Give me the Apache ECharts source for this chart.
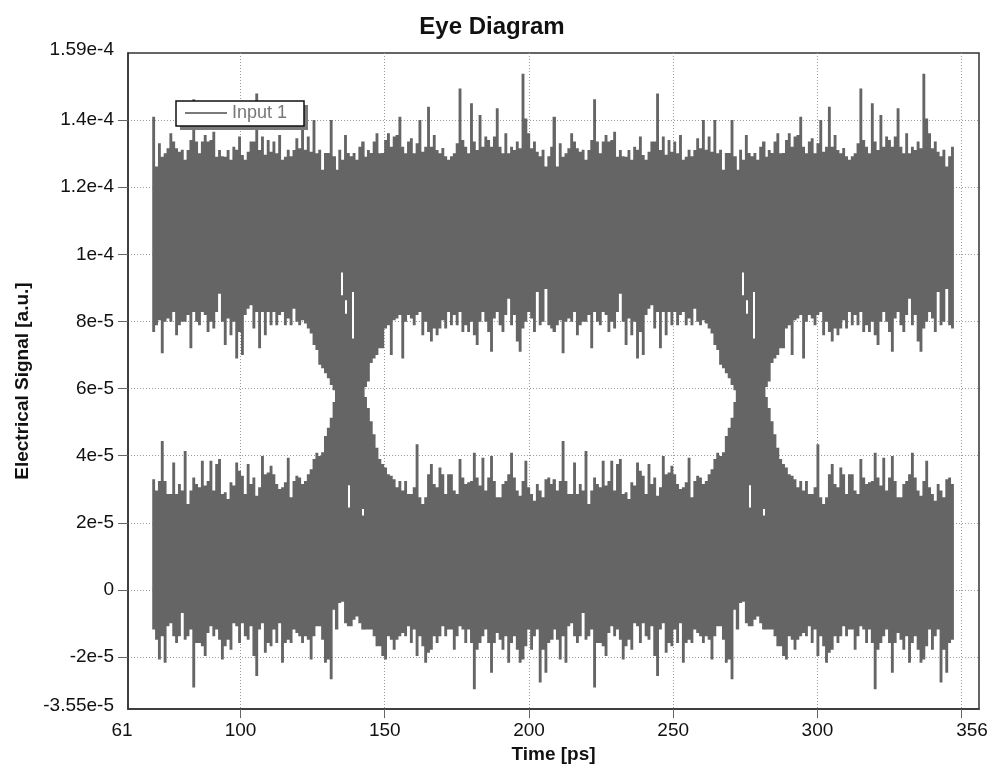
<!DOCTYPE html>
<html>
<head>
<meta charset="utf-8">
<title>Eye Diagram</title>
<script src="https://cdn.jsdelivr.net/npm/echarts@6/dist/echarts.min.js"></script>
<style>
  html, body { margin: 0; padding: 0; background: #fff; }
  #chart { width: 992px; height: 769px; }
</style>
</head>
<body>
<div id="chart"></div>
<script>
// Folded eye trace: two identical bit windows, sampled every ~1 ps.
// Amplitudes are in units of 1e-5 a.u.
const SCALE = 1e-5;
const SAMPLE_STEP = 0.9925;          // ps between samples
const windowStarts = [69.4, 208.35]; // ps, start of each bit window

// upper rail: highest excursion per sample
const upperTop = [14.10,12.62,13.31,12.91,13.01,13.16,13.61,13.36,13.16,13.06,
  13.12,12.82,13.11,13.41,14.62,13.36,13.01,13.36,13.56,13.36,
  13.41,13.65,12.91,13.11,12.92,12.91,13.11,12.82,13.21,13.12,
  13.51,12.96,12.82,13.06,13.36,13.36,14.79,13.11,13.51,12.97,
  13.41,13.06,13.36,13.01,13.56,12.82,12.91,13.12,12.92,13.11,
  13.46,13.16,14.00,13.12,13.51,13.06,14.00,13.01,13.12,12.52,
  13.02,13.02,14.00,12.92,12.52,13.12,12.82,13.56,13.02,12.92,
  13.02,12.82,13.21,13.36,12.91,13.11,13.02,13.36,13.61,13.01,
  13.02,13.41,13.61,13.21,13.51,13.56,14.10,13.21,13.01,13.36,
  13.46,13.01,13.31,14.00,13.06,13.21,14.40,13.21,13.56,13.11,
  13.01,13.17,12.92,12.82,12.92,13.01,13.31,14.94,13.41,13.21,
  13.01,14.50,13.36,13.11,14.15,13.21,13.51,13.41,13.21,13.51,
  14.35,13.21,13.01,13.61,13.01,13.21,13.11,13.36,13.16,15.38,
  14.05,13.61,13.16,13.36,13.06,12.92,13.12,12.62,12.92,13.21];

// upper rail: lowest excursion (top of the eye opening); null inside the crossing
const upperBottom = [7.69,7.89,8.04,7.05,7.99,8.09,7.99,8.28,7.59,7.89,
  7.99,7.99,8.19,7.20,8.28,7.99,7.89,8.28,8.19,7.69,
  7.99,7.79,8.28,8.83,7.99,7.30,8.09,7.59,7.99,6.90,
  7.69,7.00,8.19,8.38,8.48,7.79,8.28,7.20,8.28,7.59,
  8.28,7.89,8.28,7.89,8.19,8.28,7.89,8.09,7.89,8.38,
  7.99,7.89,8.04,7.94,7.79,7.64,7.30,7.15,6.71,6.61,
  6.46,6.31,6.11,5.95,null,null,null,null,null,null,
  null,null,null,null,6.05,6.21,6.76,6.90,7.00,7.20,
  7.20,7.79,7.89,7.00,8.04,8.09,8.19,6.90,7.99,8.19,
  8.09,7.89,8.19,8.28,7.59,7.99,7.69,7.40,7.79,7.59,
  7.79,8.04,7.79,8.28,7.89,8.19,7.89,8.28,7.69,7.89,
  7.69,7.99,7.59,7.30,7.99,8.28,7.99,7.69,7.10,8.09,
  8.28,7.89,7.69,8.19,8.68,7.89,8.19,7.40,7.10,7.79,
  7.99,8.28,8.09,7.69,8.88,7.89,7.99,8.97,7.89,7.79];

// lower rail: highest excursion (bottom of the eye opening); null inside the crossing
const lowerTop = [3.30,2.96,3.25,4.44,3.25,2.86,2.86,3.80,2.86,3.16,
  2.96,4.14,2.56,2.96,3.35,3.16,3.06,3.85,3.11,3.25,
  3.85,2.96,3.75,3.90,2.86,2.91,2.71,3.21,3.11,3.80,
  3.55,3.40,2.86,3.75,3.16,3.35,2.81,3.06,3.99,3.45,
  3.50,3.70,3.45,3.16,3.01,3.06,3.21,3.94,2.76,3.25,
  3.40,3.35,3.16,3.25,3.45,3.60,3.90,4.09,3.99,4.10,
  4.59,4.83,5.13,5.60,null,null,null,null,null,null,
  null,null,null,null,5.75,5.42,5.03,4.64,4.24,3.90,
  3.75,3.65,3.45,3.40,3.30,3.06,3.25,2.96,3.25,2.86,
  2.86,3.06,4.34,2.76,2.56,2.76,3.45,3.75,3.16,3.06,
  3.65,3.45,2.86,3.45,3.45,2.96,2.86,3.90,3.35,3.16,
  3.21,3.25,4.09,3.35,3.11,3.94,2.96,3.35,3.99,3.25,
  2.76,2.76,3.16,3.25,3.45,4.09,3.35,2.96,2.81,3.25,
  3.85,3.06,2.86,2.66,3.16,2.96,2.76,3.30,3.35,3.16];

// lower rail: lowest excursion per sample
const lowerBottom = [-1.18,-1.48,-2.07,-1.38,-2.17,-1.08,-0.99,-1.38,-1.58,-1.38,
  -0.69,-1.48,-1.38,-1.18,-2.91,-1.58,-1.58,-1.68,-1.97,-1.28,
  -1.08,-1.38,-1.18,-1.48,-2.07,-1.68,-1.48,-1.78,-0.99,-1.08,
  -1.58,-0.99,-1.38,-1.48,-1.08,-1.97,-2.56,-1.18,-0.99,-1.87,
  -1.58,-1.68,-1.18,-1.58,-0.99,-2.17,-1.58,-1.48,-1.58,-1.18,
  -1.28,-1.38,-1.58,-1.38,-1.48,-2.07,-1.38,-1.08,-1.08,-1.48,
  -2.17,-2.07,-2.66,-0.59,-1.18,-0.39,-0.35,-0.99,-1.08,-1.08,
  -0.89,-0.79,-0.99,-1.18,-1.18,-1.18,-1.18,-1.38,-1.68,-1.68,
  -1.97,-2.07,-1.38,-1.48,-1.78,-1.48,-1.38,-1.28,-1.38,-1.08,
  -1.58,-1.18,-1.97,-1.38,-1.68,-2.17,-1.87,-1.78,-1.38,-1.58,
  -1.38,-1.08,-1.38,-1.18,-1.18,-1.78,-1.38,-1.08,-1.18,-1.58,
  -1.18,-1.58,-2.96,-1.78,-1.58,-1.38,-1.18,-1.58,-2.47,-1.58,
  -1.28,-1.48,-1.78,-1.38,-2.17,-1.58,-1.38,-1.78,-2.17,-2.07,
  -1.68,-1.18,-1.78,-1.38,-1.18,-2.76,-1.78,-2.47,-1.58,-1.48];

// small openings inside the crossing: [time within window (ps), low, high]
const crossingGaps = [[65.6, 8.78, 9.46], [66.8, 8.23, 8.63], [69.3, 7.49, 8.88],
  [68.0, 2.46, 3.12], [72.8, 2.22, 2.41]];

// axis ticks and labels
const xTickValues = [100, 150, 200, 250, 300, 350];
const xLabelValues = [61, 100, 150, 200, 250, 300, 356];
const yTickValues = [-2e-5, 0, 2e-5, 4e-5, 6e-5, 8e-5, 1e-4, 1.2e-4, 1.4e-4];
const yLabelValues = [-3.55e-5, -2e-5, 0, 2e-5, 4e-5, 6e-5, 8e-5, 1e-4, 1.2e-4, 1.4e-4, 1.6e-4];
const yLabelTexts = ['-3.55e-5', '-2e-5', '0', '2e-5', '4e-5', '6e-5', '8e-5', '1e-4', '1.2e-4', '1.4e-4', '1.59e-4'];

const TRACE_COLOR = '#656565';
const FONT = 'Liberation Sans, Arial, sans-serif';

const gapRows = [];
windowStarts.forEach(function (t0) {
  crossingGaps.forEach(function (g) {
    gapRows.push([t0 + g[0], g[1] * SCALE, g[2] * SCALE]);
  });
});

// One bit window of the trace. Runs of samples with an open eye give two
// stepped outlines (upper and lower rail); runs inside the crossing give one.
// Outlines that meet another run or window overlap it by half a pixel.
function renderWindow(params, api) {
  const w = params.dataIndex;
  const t0 = windowStarts[w];
  const n = upperTop.length;
  const xs = [];
  for (let k = 0; k <= n; k++) xs.push(api.coord([t0 + k * SAMPLE_STEP, 0])[0]);
  function yOf(v) { return api.coord([t0, v * SCALE])[1]; }
  function isOpen(k) { return upperBottom[k] != null && lowerTop[k] != null; }
  const joinLeft = w > 0;
  const joinRight = w < windowStarts.length - 1;

  const children = [];
  function outline(a, b, topArr, botArr) {
    const pts = [];
    const left = xs[a] - ((a > 0 || joinLeft) ? 0.5 : 0);
    const right = xs[b + 1] + ((b < n - 1 || joinRight) ? 0.5 : 0);
    for (let j = a; j <= b; j++) {
      const y = yOf(topArr[j]);
      pts.push([j === a ? left : xs[j], y], [j === b ? right : xs[j + 1], y]);
    }
    for (let j = b; j >= a; j--) {
      const y = yOf(botArr[j]);
      pts.push([j === b ? right : xs[j + 1], y], [j === a ? left : xs[j], y]);
    }
    children.push({ type: 'polygon', shape: { points: pts }, style: { fill: TRACE_COLOR } });
  }

  let k = 0;
  while (k < n) {
    const open = isOpen(k);
    let e = k;
    while (e + 1 < n && isOpen(e + 1) === open) e++;
    if (open) {
      outline(k, e, upperTop, upperBottom);
      outline(k, e, lowerTop, lowerBottom);
    } else {
      outline(k, e, upperTop, lowerBottom);
    }
    k = e + 1;
  }
  return { type: 'group', children: children };
}

function renderGap(params, api) {
  const g = gapRows[params.dataIndex];
  const p1 = api.coord([g[0], g[2]]);
  const p2 = api.coord([g[0], g[1]]);
  return {
    type: 'rect',
    shape: { x: Math.round(p1[0]), y: p1[1], width: 2, height: p2[1] - p1[1] },
    style: { fill: '#ffffff' }
  };
}

function yLabel(v) {
  for (let i = 0; i < yLabelValues.length; i++) {
    if (Math.abs(yLabelValues[i] - v) < 1e-9) {
      const txt = yLabelTexts[i];
      if (i === 0 || i === yLabelValues.length - 1) return '{edge|' + txt + '}';
      return txt;
    }
  }
  return '';
}

function xLabel(v) {
  if (v === xLabelValues[0]) return '{lo|' + v + '}';
  if (v === xLabelValues[xLabelValues.length - 1]) return '{hi|' + v + '}';
  return String(v);
}

const chart = echarts.init(document.getElementById('chart'), null, { renderer: 'canvas' });

chart.setOption({
  animation: false,
  backgroundColor: '#ffffff',
  graphic: [{
    type: 'text',
    x: 492,
    y: 27,
    z: 10,
    style: {
      text: 'Eye Diagram',
      font: 'bold 24px ' + FONT,
      fill: '#111',
      textAlign: 'center',
      textVerticalAlign: 'middle'
    }
  }, {
    // legend frame: drop shadow, then white box with dark border
    type: 'rect',
    z: 20,
    shape: { x: 180, y: 105, width: 128, height: 25 },
    style: { fill: '#7a7a7a' }
  }, {
    type: 'rect',
    z: 21,
    shape: { x: 176, y: 101, width: 128, height: 25 },
    style: { fill: '#ffffff', stroke: '#111', lineWidth: 1.5 }
  }],
  grid: {
    left: 128, right: 13, top: 53, bottom: 56,
    show: true,
    borderColor: '#333',
    borderWidth: 1.5,
    backgroundColor: 'transparent'
  },
  legend: {
    left: 176,
    top: 101,
    z: 30,
    padding: [3, 14, 3, 9],
    backgroundColor: 'transparent',
    borderWidth: 0,
    itemWidth: 42,
    itemHeight: 2,
    itemGap: 8,
    textStyle: { color: '#777', fontSize: 18, fontFamily: FONT },
    data: [{ name: 'Input 1', icon: 'rect', itemStyle: { color: '#7a7a7a' } }]
  },
  xAxis: {
    type: 'value',
    min: 61,
    max: 356,
    name: 'Time [ps]',
    nameLocation: 'middle',
    nameGap: 34,
    nameTextStyle: { fontFamily: FONT, fontWeight: 'bold', fontSize: 19, color: '#111' },
    axisLine: { show: true, onZero: false, lineStyle: { color: '#333', width: 1.5 } },
    axisTick: {
      show: true, inside: false, length: 9,
      customValues: xTickValues,
      lineStyle: { color: '#666', width: 1 }
    },
    axisLabel: {
      customValues: xLabelValues,
      margin: 12,
      fontFamily: FONT, fontSize: 19, color: '#111',
      formatter: xLabel,
      rich: {
        lo: { fontFamily: FONT, fontSize: 19, color: '#111', padding: [0, 12, 0, 0] },
        hi: { fontFamily: FONT, fontSize: 19, color: '#111', padding: [0, 14, 0, 0] }
      }
    },
    splitLine: { show: true, lineStyle: { color: '#9a9a9a', type: [1, 2], width: 1 } }
  },
  yAxis: {
    type: 'value',
    min: -3.55e-5,
    max: 1.6e-4,
    name: 'Electrical Signal [a.u.]',
    nameLocation: 'middle',
    nameGap: 95,
    nameTextStyle: { fontFamily: FONT, fontWeight: 'bold', fontSize: 19, color: '#111' },
    axisLine: { show: true, onZero: false, lineStyle: { color: '#333', width: 1.5 } },
    axisTick: {
      show: true, inside: false, length: 10,
      customValues: yTickValues,
      lineStyle: { color: '#666', width: 1 }
    },
    axisLabel: {
      customValues: yLabelValues,
      margin: 14,
      fontFamily: FONT, fontSize: 19, color: '#111',
      formatter: yLabel,
      rich: {
        edge: { fontFamily: FONT, fontSize: 19, color: '#111', padding: [0, 0, 6, 0] }
      }
    },
    splitLine: { show: true, lineStyle: { color: '#9a9a9a', type: [1, 2], width: 1 } }
  },
  series: [{
    name: 'Input 1',
    type: 'custom',
    renderItem: renderWindow,
    itemStyle: { color: TRACE_COLOR },
    encode: { x: 0 },
    data: windowStarts.map(function (t0) { return [t0]; }),
    clip: true,
    z: 2
  }, {
    name: 'crossing gaps',
    type: 'custom',
    renderItem: renderGap,
    encode: { x: 0, y: [1, 2] },
    data: gapRows,
    clip: true,
    silent: true,
    z: 3
  }]
});
</script>
</body>
</html>
